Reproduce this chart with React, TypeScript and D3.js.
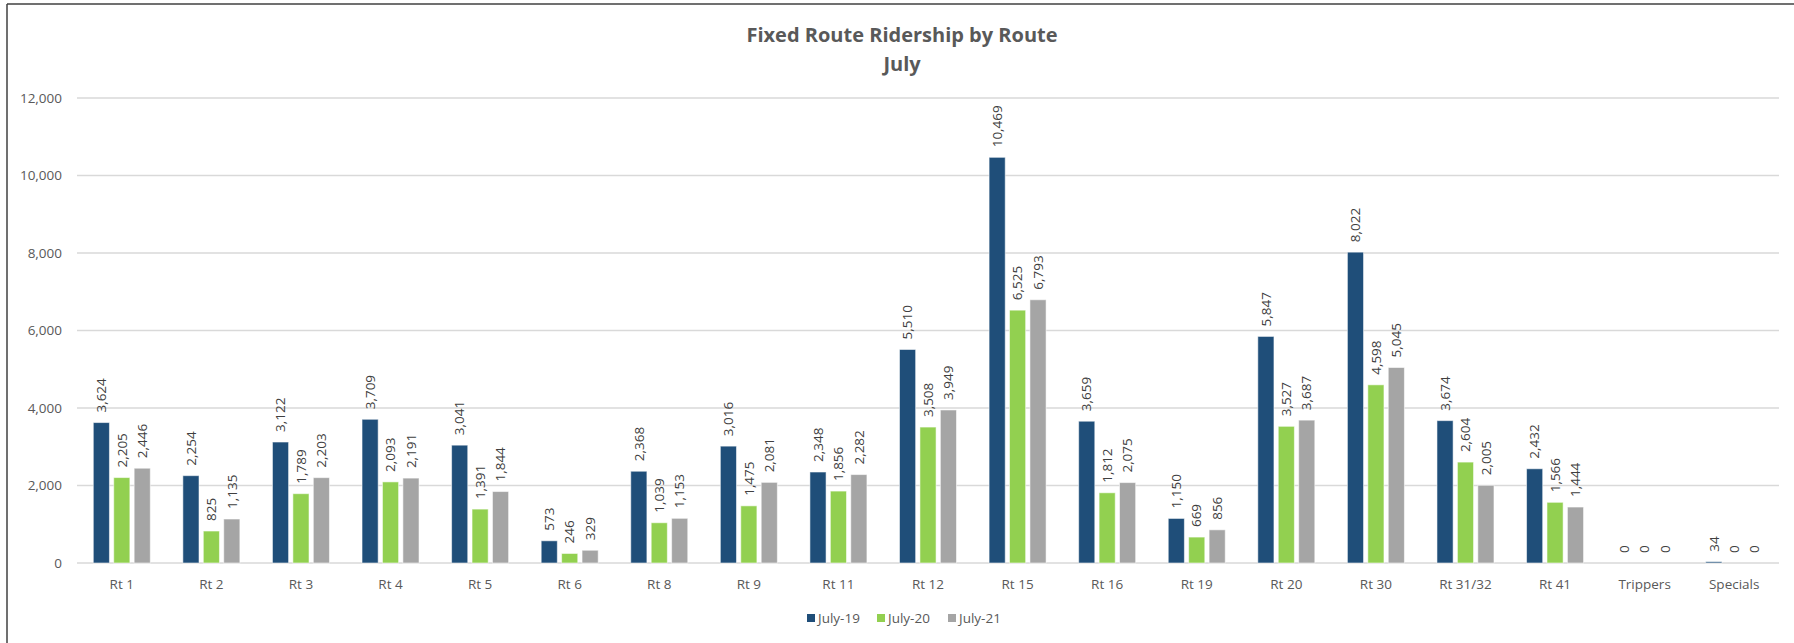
import React from "react";
import * as d3 from "d3";

const categories = ["Rt 1", "Rt 2", "Rt 3", "Rt 4", "Rt 5", "Rt 6", "Rt 8", "Rt 9", "Rt 11", "Rt 12", "Rt 15", "Rt 16", "Rt 19", "Rt 20", "Rt 30", "Rt 31/32", "Rt 41", "Trippers", "Specials"];
const seriesNames = ["July-19", "July-20", "July-21"];
const july19 = [3624, 2254, 3122, 3709, 3041, 573, 2368, 3016, 2348, 5510, 10469, 3659, 1150, 5847, 8022, 3674, 2432, 0, 34];
const july20 = [2205, 825, 1789, 2093, 1391, 246, 1039, 1475, 1856, 3508, 6525, 1812, 669, 3527, 4598, 2604, 1566, 0, 0];
const july21 = [2446, 1135, 2203, 2191, 1844, 329, 1153, 2081, 2282, 3949, 6793, 2075, 856, 3687, 5045, 2005, 1444, 0, 0];
const yTicks = [0, 2000, 4000, 6000, 8000, 10000, 12000];
const colors = ["#1F4E79", "#92D050", "#A5A5A5"];

const W = 1794;
const H = 643;
const FONT = "'Open Sans', sans-serif";

export default function App() {
  const seriesValues = [july19, july20, july21];
  const x = d3.scaleBand().domain(categories).range([77, 1779]);
  const xi = d3.scaleBand().domain(seriesNames).range([-28.5, 28.5]).paddingInner(0.21);
  const y = d3.scaleLinear().domain([0, 12000]).range([563, 98]);
  const fmt = d3.format(",");
  const legendX = [807, 877, 948];

  return (
    <svg width={W} height={H} style={{ position: "absolute", left: 0, top: 0, background: "#fff" }} fontFamily={FONT}>
      <rect x={0} y={0} width={W} height={H} fill="#fff" />
      {/* border */}
      <line x1={7} y1={4} x2={W} y2={4} stroke="#404040" strokeWidth={1.5} />
      <line x1={7} y1={4} x2={7} y2={H} stroke="#404040" strokeWidth={1.5} />

      {/* title */}
      <text x={902} y={42} textAnchor="middle" fontSize={20} fontWeight="bold" fill="#595959">Fixed Route Ridership by Route</text>
      <text x={902} y={71} textAnchor="middle" fontSize={20} fontWeight="bold" fill="#595959">July</text>

      {/* gridlines and y ticks */}
      {yTicks.map((t) => (
        <g key={t}>
          <line x1={77} x2={1779} y1={y(t)} y2={y(t)} stroke="#D9D9D9" strokeWidth={1.3} />
          <text x={62} y={y(t)} dy="0.35em" textAnchor="end" fontSize={13.5} fill="#595959">{fmt(t)}</text>
        </g>
      ))}

      {/* bars */}
      {categories.map((c, ci) => {
        const cx = (x(c) as number) + x.bandwidth() / 2;
        return (
          <g key={c}>
            {seriesNames.map((s, si) => {
              const v = seriesValues[si][ci];
              const bx = cx + (xi(s) as number);
              const bw = xi.bandwidth();
              const by = y(v);
              return (
                <g key={s}>
                  {v > 0 && (
                    <rect x={bx} y={by} width={bw} height={y(0) - by} fill={colors[si]} stroke="#ffffff" strokeOpacity={0.55} strokeWidth={1} />
                  )}
                  <text
                    transform={`translate(${bx + bw / 2},${by - 10}) rotate(-90)`}
                    dy="0.35em"
                    textAnchor="start"
                    fontSize={13.5}
                    fill="#404040"
                  >
                    {fmt(v)}
                  </text>
                </g>
              );
            })}
            <text x={cx} y={589} textAnchor="middle" fontSize={13.5} fill="#595959">{c}</text>
          </g>
        );
      })}

      {/* legend */}
      {seriesNames.map((s, i) => (
        <g key={s}>
          <rect x={legendX[i]} y={614} width={8} height={8} fill={colors[i]} />
          <text x={legendX[i] + 11} y={618} dy="0.35em" fontSize={13.5} fill="#595959">{s}</text>
        </g>
      ))}
    </svg>
  );
}
